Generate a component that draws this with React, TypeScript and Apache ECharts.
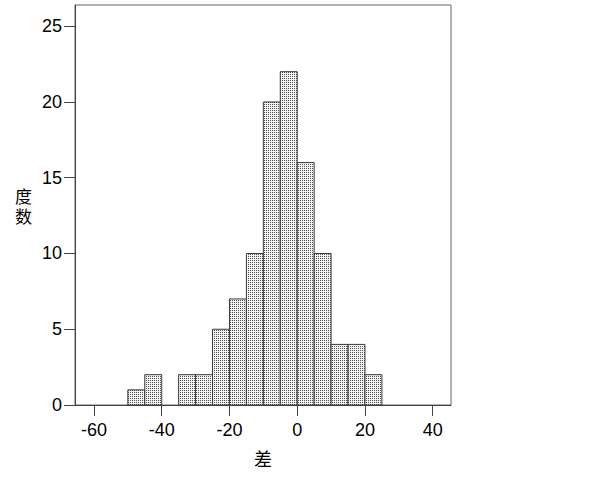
import React, { useEffect, useRef } from "react";
import * as echarts from "echarts";

const binStarts = [-50, -45, -35, -30, -25, -20, -15, -10, -5, 0, 5, 10, 15, 20];
const binWidth = 5;
const counts = [1, 2, 2, 2, 5, 7, 10, 20, 22, 16, 10, 4, 4, 2];
const xTicks = [-60, -40, -20, 0, 20, 40];
const yTicks = [0, 5, 10, 15, 20, 25];
const xName = "差";
const yName = "度\n数";

function makePattern(): HTMLCanvasElement {
  const c = document.createElement("canvas");
  c.width = 2;
  c.height = 2;
  const ctx = c.getContext("2d")!;
  ctx.fillStyle = "#f4f4f4";
  ctx.fillRect(0, 0, 2, 2);
  ctx.fillStyle = "#505050";
  ctx.fillRect(0, 0, 1, 1);
  return c;
}

export default function App() {
  const ref = useRef<HTMLDivElement>(null);
  useEffect(() => {
    if (!ref.current) return;
    const chart = echarts.init(ref.current, null, { renderer: "svg" });
    const pattern = makePattern();
    const data = binStarts.map((s, i) => [s, s + binWidth, counts[i]]);
    const labelFont = { fontFamily: "Liberation Sans, Arial, sans-serif", fontSize: 18, color: "#000" };
    chart.setOption({
      animation: false,
      backgroundColor: "#fff",
      grid: { left: 75, right: 151, top: 5, bottom: 76, show: true, borderColor: "#666", borderWidth: 1, backgroundColor: "transparent" },
      xAxis: {
        type: "value",
        min: -65.6,
        max: 45.4,
        name: xName,
        nameLocation: "middle",
        nameGap: 44,
        nameTextStyle: { fontFamily: "Noto Sans CJK SC", fontSize: 18, color: "#000" },
        axisLine: { show: true, onZero: false, lineStyle: { color: "#444", width: 1 } },
        axisTick: { show: true, length: 11, customValues: xTicks, lineStyle: { color: "#444" } },
        axisLabel: { ...labelFont, margin: 16, customValues: xTicks },
        splitLine: { show: false },
      },
      yAxis: {
        type: "value",
        min: 0,
        max: 26.4,
        name: yName,
        nameLocation: "middle",
        nameRotate: 0,
        nameGap: 43,
        nameTextStyle: { fontFamily: "Noto Sans CJK SC", fontSize: 17, color: "#000", lineHeight: 20 },
        axisLine: { show: true, onZero: false, lineStyle: { color: "#444", width: 1 } },
        axisTick: { show: true, length: 11, customValues: yTicks, lineStyle: { color: "#444" } },
        axisLabel: { ...labelFont, margin: 13, customValues: yTicks },
        splitLine: { show: false },
      },
      series: [
        {
          type: "custom",
          data,
          encode: { x: [0, 1], y: 2 },
          renderItem: (params: any, api: any) => {
            const p0 = api.coord([api.value(0), api.value(2)]);
            const p1 = api.coord([api.value(1), 0]);
            return {
              type: "rect",
              shape: { x: p0[0], y: p0[1], width: p1[0] - p0[0], height: p1[1] - p0[1] },
              style: { fill: { image: pattern, repeat: "repeat" } as any, stroke: "#3a3a3a", lineWidth: 1 },
            };
          },
        },
      ],
    });
    return () => chart.dispose();
  }, []);
  return <div ref={ref} style={{ position: "absolute", left: 0, top: 0, width: 602, height: 481 }} />;
}
